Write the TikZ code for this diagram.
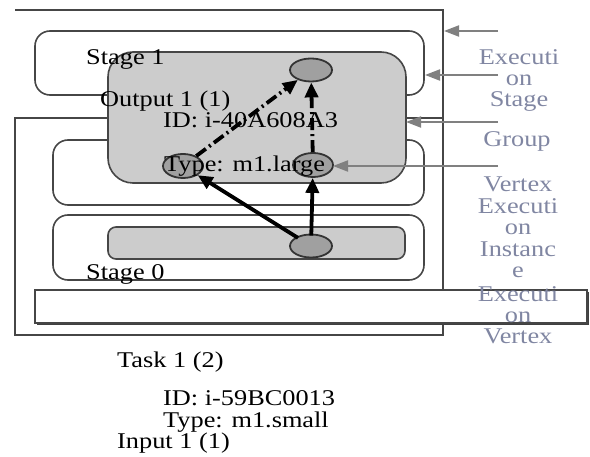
\documentclass[tikz,border=0pt]{standalone}
\usepackage{fontspec}
\setmainfont{Liberation Serif}[FakeStretch=1.17]
\usetikzlibrary{shapes.geometric,arrows.meta}
\definecolor{edgegray}{RGB}{70,70,70}
\definecolor{boxfill}{RGB}{204,204,204}
\definecolor{dotfill}{RGB}{160,160,160}
\definecolor{labelcol}{RGB}{128,134,162}
\definecolor{ptrgray}{RGB}{128,128,128}
\tikzset{
  frame/.style={draw=edgegray,line width=1.6pt},
  stagebox/.style={draw=edgegray,line width=1.6pt,rounded corners=15pt,inner sep=0pt},
  graybox/.style={draw=edgegray,line width=1.6pt,fill=boxfill,inner sep=0pt},
  vert/.style={ellipse,draw=black!80,line width=1.8pt,fill=dotfill,inner sep=0pt},
  solidarr/.style={line width=3.8pt,-{Triangle[length=15pt,width=13pt]},shorten <=-2pt},
  dasharr/.style={line width=3.8pt,dash pattern=on 12pt off 4pt on 2pt off 4pt,-{Triangle[length=15pt,width=13pt]}},
  ptr/.style={draw=ptrgray,line width=2pt,-{Triangle[length=15pt,width=11pt]}},
  txt/.style={font=\fontsize{22.5}{24}\selectfont,inner sep=0pt,anchor=base west},
  lbl/.style={font=\fontsize{22.5}{21.4}\selectfont,text=labelcol,inner sep=0pt,anchor=north,align=center},
}
\begin{document}
\begin{tikzpicture}[x=1pt,y=-1pt]
\useasboundingbox (0,0) rectangle (590,457);
% frames
\draw[frame] (15,10) -- (443,10) -- (443,335);
\draw[frame] (15,118) rectangle (443,335);
% stage boxes
\node[stagebox,minimum width=389pt,minimum height=64pt] (st1) at (229.5,63) {};
\node[stagebox,minimum width=371pt,minimum height=65pt] (mid) at (238.5,172.5) {};
\node[stagebox,minimum width=371pt,minimum height=65pt] (st0) at (238.5,247.5) {};
% gray boxes
\node[graybox,rounded corners=25pt,minimum width=298pt,minimum height=131pt] (out) at (257,117.5) {};
\node[graybox,rounded corners=8pt,minimum width=297pt,minimum height=32pt] (bar) at (256.5,243) {};
% white bar
\fill[black!75] (37,292) rectangle (589,325);
\node[draw=edgegray,line width=1.4pt,fill=white,minimum width=552pt,minimum height=33pt,inner sep=0pt] (wbar) at (311,306.5) {};
% vertices
\node[vert,minimum width=42pt,minimum height=23pt] (vt) at (311,70) {};
\node[vert,minimum width=40pt,minimum height=24pt] (vm) at (313,165) {};
\node[vert,minimum width=40pt,minimum height=24pt] (vl) at (183,166) {};
\node[vert,minimum width=42pt,minimum height=23pt] (vb) at (311,246) {};
% black texts
\node[txt] (t1) at (86,65) {Stage 1};
\node[txt] (t2) at (100,107) {Output 1 (1)};
\node[txt] (t3) at (163,128) {ID: i-40A608A3};
\node[txt] (t4) at (164,172) {Type: m1.large};
\node[txt] (t5) at (86,280) {Stage 0};
\node[txt] (t6) at (117,368) {Task 1 (2)};
\node[txt] (t7) at (163,406) {ID: i-59BC0013};
\node[txt] (t8) at (163,428) {Type: m1.small};
\node[txt] (t9) at (117,449) {Input 1 (1)};
% edges
\draw[solidarr] (vb) -- (vl);
\draw[solidarr] (vb) -- (vm);
\draw[dasharr] (vl) -- (vt);
\draw[dasharr] (vm) -- (vt);
% pointers
\coordinate (p1) at (498,31);  \coordinate (q1) at (444,31);
\coordinate (p2) at (498,75);  \coordinate (q2) at (425,75);
\coordinate (p3) at (498,122); \coordinate (q3) at (406,122);
\coordinate (p4) at (498,166); \coordinate (q4) at (333,166);
\draw[ptr] (p1) -- (q1);
\draw[ptr] (p2) -- (q2);
\draw[ptr] (p3) -- (q3);
\draw[ptr] (p4) -- (q4);
% labels
\node[lbl] (l1) at (519,49) {Executi\\on\\Stage};
\node[lbl] (l2) at (517,131) {Group};
\node[lbl] (l3) at (518,177) {Vertex\\Executi\\on\\Instanc\\e};
\node[lbl] (l4) at (518,286) {Executi\\on\\Vertex};
\end{tikzpicture}
\end{document}
